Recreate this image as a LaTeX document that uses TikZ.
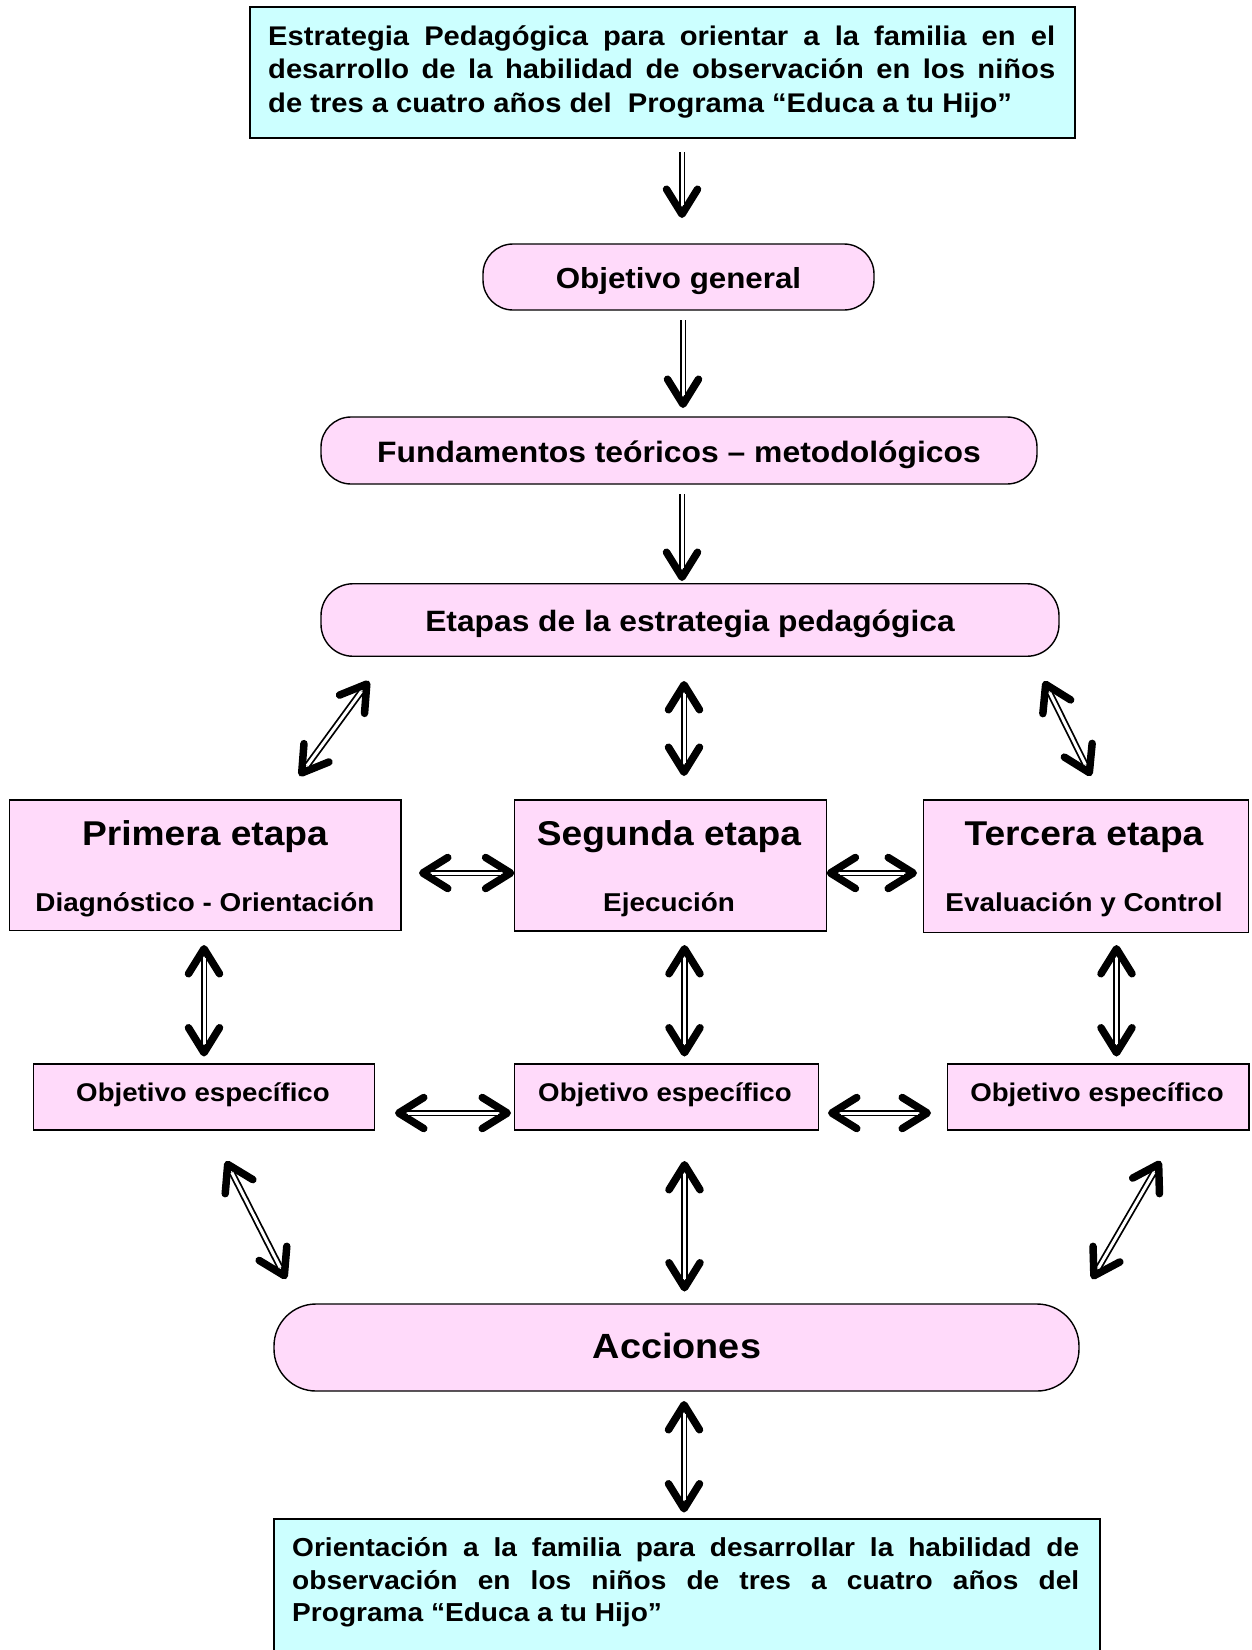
\documentclass[tikz,border=0pt]{standalone}
\usepackage{fontspec}
\setmainfont{Liberation Sans}[FakeStretch=1.08]
\usetikzlibrary{arrows.meta}
\definecolor{cyanfill}{HTML}{CCFFFF}
\definecolor{pinkfill}{HTML}{FFDAFA}
\tikzset{
  box/.style={draw=black, line width=1.4pt, inner sep=0pt, outer sep=0pt},
  cyanbox/.style={box, fill=cyanfill},
  pinkbox/.style={box, fill=pinkfill},
  pinkround/.style={pinkbox, rounded corners=#1},
  lab/.style={inner sep=0pt, anchor=base},
  tipend/.style={draw=white, line width=0.3pt},
  shaft/.style={draw=black, double=white, double distance=3pt, line width=1.8pt},
  barb/.tip={Straight Barb[length=25pt,width=31pt,line width=7.5pt,round,color=black]}
}
\newcommand{\dblarr}[2]{%
  \draw[tipend, {barb}-{barb}] (#1) -- (#2);
  \draw[shaft, shorten <=13pt, shorten >=13pt] (#1) -- (#2);}
\newcommand{\sglarr}[2]{%
  \draw[tipend, -{barb}] (#1) -- (#2);
  \draw[shaft, shorten >=13pt] (#1) -- (#2);}
\begin{document}
\begin{tikzpicture}[x=1pt,y=-1pt]
\useasboundingbox (0,0) rectangle (1251,1650);
\fill[white] (0,0) rectangle (1251,1650);

% boxes
\node[cyanbox, minimum width=825pt, minimum height=131pt] (top) at (662.5,72.5) {};
\node[pinkround=30pt, minimum width=391pt, minimum height=66pt] (og) at (678.5,277) {};
\node[pinkround=30pt, minimum width=716pt, minimum height=67pt] (fund) at (679,450.5) {};
\node[pinkround=32pt, minimum width=738pt, minimum height=72.5pt] (etapas) at (690,620) {};
\node[pinkbox, minimum width=391.4pt, minimum height=130.7pt] (p1) at (205.3,865.3) {};
\node[pinkbox, minimum width=312.3pt, minimum height=131pt] (p2) at (670.5,865.5) {};
\node[pinkbox, minimum width=325pt, minimum height=132.7pt] (p3) at (1086,866.3) {};
\node[pinkbox, minimum width=341pt, minimum height=66pt] (o1) at (204,1097) {};
\node[pinkbox, minimum width=304pt, minimum height=66pt] (o2) at (666.5,1097) {};
\node[pinkbox, minimum width=301.5pt, minimum height=66pt] (o3) at (1098.3,1097) {};
\node[pinkround=42pt, minimum width=805pt, minimum height=87pt] (acc) at (676.5,1347.5) {};
\node[cyanbox, minimum width=826pt, minimum height=142pt] (bot) at (687,1590) {};

% texts
\node[inner sep=0pt, anchor=north west, font=\bfseries\fontsize{27}{33.5}\selectfont] (toptext) at (268,15)
 {\parbox{787pt}{\rule{0pt}{30pt}\makebox[787pt][s]{Estrategia Pedagógica para orientar a la familia en el}\\\makebox[787pt][s]{desarrollo de la habilidad de observación en los niños}\\de tres a cuatro años del\ \ Programa “Educa a tu Hijo”}};
\node[inner sep=0pt, anchor=north west, font=\bfseries\fontsize{26}{32.5}\selectfont] (bottext) at (292,1526.5)
 {\parbox{787pt}{\rule{0pt}{30pt}\makebox[787pt][s]{Orientación a la familia para desarrollar la habilidad de}\\\makebox[787pt][s]{observación en los niños de tres a cuatro años del}\\Programa “Educa a tu Hijo”}};

\node[lab, font=\bfseries\fontsize{29}{35}\selectfont] (ogl) at (678.5,288) {Objetivo general};
\node[lab, font=\bfseries\fontsize{29.5}{35}\selectfont] (fundl) at (679,462.5) {Fundamentos teóricos – metodológicos};
\node[lab, font=\bfseries\fontsize{29.4}{35}\selectfont] (etapasl) at (690,631) {Etapas de la estrategia pedagógica};
\node[lab, font=\bfseries\fontsize{34.4}{40}\selectfont] (p1t) at (205,845) {Primera etapa};
\node[lab, font=\bfseries\fontsize{25.8}{31}\selectfont] (p1s) at (205,911) {Diagnóstico - Orientación};
\node[lab, font=\bfseries\fontsize{34.4}{40}\selectfont] (p2t) at (669,845) {Segunda etapa};
\node[lab, font=\bfseries\fontsize{25.8}{31}\selectfont] (p2s) at (669,911) {Ejecución};
\node[lab, font=\bfseries\fontsize{34.4}{40}\selectfont] (p3t) at (1084,845) {Tercera etapa};
\node[lab, font=\bfseries\fontsize{25.8}{31}\selectfont] (p3s) at (1084,911) {Evaluación y Control};
\node[lab, font=\bfseries\fontsize{25.6}{31}\selectfont] (o1l) at (203,1101.5) {Objetivo específico};
\node[lab, font=\bfseries\fontsize{25.6}{31}\selectfont] (o2l) at (665,1101.5) {Objetivo específico};
\node[lab, font=\bfseries\fontsize{25.6}{31}\selectfont] (o3l) at (1097,1101.5) {Objetivo específico};
\node[lab, font=\bfseries\fontsize{35}{42}\selectfont] (accl) at (677,1358) {Acciones};

% connector end points
\coordinate (a1s) at (682,152);   \coordinate (a1e) at (682,218);
\coordinate (a2s) at (683,320);   \coordinate (a2e) at (683,408);
\coordinate (a3s) at (682,494);   \coordinate (a3e) at (682,581);
\coordinate (d1s) at (369,681);   \coordinate (d1e) at (299.5,776);
\coordinate (d2s) at (684,681);   \coordinate (d2e) at (684,776);
\coordinate (d3s) at (1044,681);  \coordinate (d3e) at (1091,776);
\coordinate (h1s) at (419,873);   \coordinate (h1e) at (p2.west |- h1s);
\coordinate (h2s) at (p2.east |- h1s); \coordinate (h2e) at (917,873);
\coordinate (v1s) at (204,945);   \coordinate (v1e) at (204,1056.5);
\coordinate (v2s) at (684.5,945); \coordinate (v2e) at (684.5,1056.5);
\coordinate (v3s) at (1116.5,945);\coordinate (v3e) at (1116.5,1056.5);
\coordinate (g1s) at (395,1113);  \coordinate (g1e) at (511,1113);
\coordinate (g2s) at (828,1113);  \coordinate (g2e) at (931,1113);
\coordinate (b1s) at (226,1161);  \coordinate (b1e) at (286,1279);
\coordinate (b2s) at (684.5,1161);\coordinate (b2e) at (684.5,1291.5);
\coordinate (b3s) at (1160.5,1161);\coordinate (b3e) at (1092,1279);
\coordinate (c1s) at (684,1401);  \coordinate (c1e) at (684,1512.5);

% connectors
\sglarr{a1s}{a1e}
\sglarr{a2s}{a2e}
\sglarr{a3s}{a3e}
\dblarr{d1s}{d1e}
\dblarr{d2s}{d2e}
\dblarr{d3s}{d3e}
\dblarr{h1s}{h1e}
\dblarr{h2s}{h2e}
\dblarr{v1s}{v1e}
\dblarr{v2s}{v2e}
\dblarr{v3s}{v3e}
\dblarr{g1s}{g1e}
\dblarr{g2s}{g2e}
\dblarr{b1s}{b1e}
\dblarr{b2s}{b2e}
\dblarr{b3s}{b3e}
\dblarr{c1s}{c1e}
\end{tikzpicture}
\end{document}
